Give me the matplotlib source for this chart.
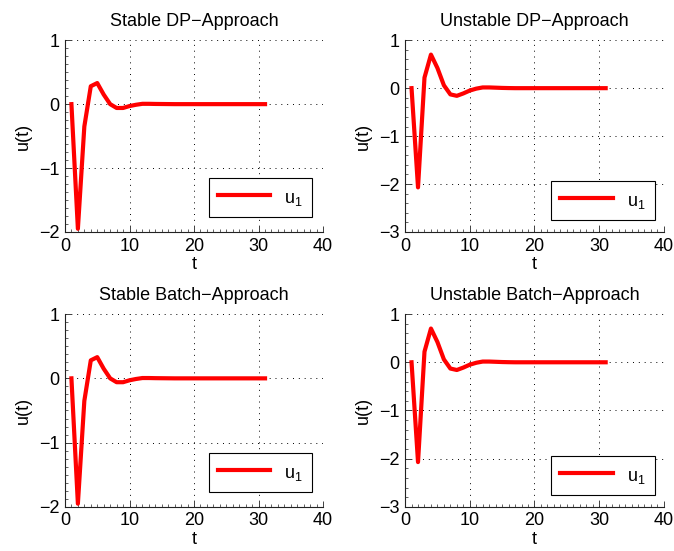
import matplotlib
matplotlib.use('AGG')
import numpy as np
import matplotlib.pyplot as plt
import matplotlib.ticker as ticker

plt.rcParams['font.family'] = ['Liberation Sans', 'DejaVu Sans']
plt.rcParams['mathtext.fontset'] = 'custom'
plt.rcParams['mathtext.rm'] = 'Liberation Sans'
plt.rcParams['mathtext.it'] = 'Liberation Sans'

# time steps
t = list(range(1, 32))

# control input, stable plant
u_stable = [0.0, -1.95, -0.35, 0.28, 0.33, 0.15, 0.0, -0.06, -0.06, -0.03,
            -0.01, 0.005, 0.005, 0.003, 0.002, 0.001, 0.0, 0.0, 0.0, 0.0,
            0.0, 0.0, 0.0, 0.0, 0.0, 0.0, 0.0, 0.0, 0.0, 0.0, 0.0]

# control input, unstable plant
u_unstable = [0.0, -2.07, 0.22, 0.70, 0.42, 0.06, -0.13, -0.16, -0.11, -0.05,
              -0.01, 0.015, 0.015, 0.01, 0.005, 0.002, 0.0, 0.0, 0.0, 0.0,
              0.0, 0.0, 0.0, 0.0, 0.0, 0.0, 0.0, 0.0, 0.0, 0.0, 0.0]

titles = ["Stable DP\u2212Approach", "Unstable DP\u2212Approach",
          "Stable Batch\u2212Approach", "Unstable Batch\u2212Approach"]
series = [u_stable, u_unstable, u_stable, u_unstable]
ylims = [(-2, 1), (-3, 1), (-2, 1), (-3, 1)]
yminor = [0.125, 0.2, 0.125, 0.2]

# axes rectangles in figure fractions [left, bottom, width, height]
rects = [[0.0964, 0.579, 0.383, 0.348],
         [0.601, 0.579, 0.384, 0.348],
         [0.0964, 0.080, 0.383, 0.350],
         [0.601, 0.080, 0.384, 0.350]]
leg_anchor = [(0.957, 0.078), (0.965, 0.062), (0.957, 0.078), (0.965, 0.062)]

FS = 13

fig = plt.figure(figsize=(6.74, 5.51), dpi=100)
for i in range(4):
    ax = fig.add_axes(rects[i])
    ax.plot(t, series[i], color='#ff0000', lw=3, label='u$_{1}$')
    ax.set_xlim(0, 40)
    ax.set_ylim(*ylims[i])
    ax.xaxis.set_major_locator(ticker.MultipleLocator(10))
    ax.yaxis.set_major_locator(ticker.MultipleLocator(1))
    ax.xaxis.set_minor_locator(ticker.MultipleLocator(1))
    ax.yaxis.set_minor_locator(ticker.MultipleLocator(yminor[i]))
    ax.tick_params(which='both', direction='in', labelsize=FS, colors='#222222',
                   labelcolor='black')
    ax.tick_params(which='major', length=4, width=0.6)
    ax.tick_params(which='minor', length=2, width=0.5)
    ax.tick_params(axis='x', pad=4)
    ax.tick_params(axis='y', pad=4)
    ax.spines['top'].set_visible(False)
    ax.spines['right'].set_visible(False)
    for s in ['left', 'bottom']:
        ax.spines[s].set_color('#222222')
        ax.spines[s].set_linewidth(0.8)
    ax.grid(True, which='major', color='black', linestyle=(0, (1, 5)), lw=0.7)
    ax.set_title(titles[i], fontsize=FS, pad=10)
    ax.set_xlabel('t', fontsize=FS, labelpad=1)
    ax.set_ylabel('u(t)', fontsize=FS, labelpad=5)
    leg = ax.legend(loc='lower right', bbox_to_anchor=leg_anchor[i],
                    borderaxespad=0, fontsize=FS, handlelength=2.9,
                    handleheight=1.3, fancybox=False, framealpha=1,
                    edgecolor='black', borderpad=0.5, handletextpad=0.8)
    leg.get_frame().set_linewidth(0.8)

plt.savefig('out.png', dpi=100)
